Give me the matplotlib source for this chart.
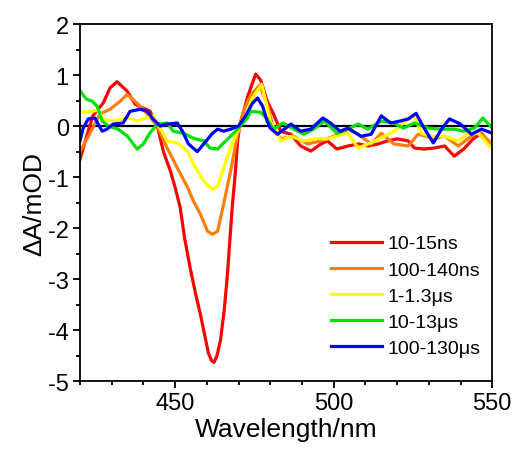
import matplotlib
matplotlib.use("Agg")
import matplotlib.pyplot as plt
from matplotlib.ticker import MultipleLocator

plt.rcParams['font.family'] = ['Liberation Sans', 'DejaVu Sans']
plt.rcParams['axes.unicode_minus'] = False

# transient absorption spectra (wavelength nm, dA mOD)
red_x = [420, 424, 427.3, 429.5, 431.7, 434.8, 437.4, 440, 442, 444.4, 446.3, 448.5, 450,
         451.6, 453, 454.8, 456.5, 458, 459.5, 460.5, 461.5, 462.3, 463.2, 464.3, 465.5,
         466.5, 467.3, 468, 469, 469.7, 470.3, 473, 475.4, 477, 479, 481,
         483.3, 486.5, 489.6, 492.8, 496, 498, 501, 504.5, 507.7, 510.8, 514, 517, 520, 523.5,
         525.4, 528.5, 531.7, 535, 538, 541, 544, 546.6, 550]
red_y = [-0.65, 0.2, 0.45, 0.75, 0.87, 0.69, 0.43, 0.35, 0.3, 0.0, -0.5, -0.88, -1.2,
         -1.6, -2.2, -2.8, -3.3, -3.7, -4.15, -4.45, -4.6, -4.63, -4.5, -4.2, -3.6,
         -2.9, -2.2, -1.6, -0.9, -0.3, 0.0, 0.6, 1.02, 0.9, 0.49, 0.24,
         -0.1, -0.16, -0.39, -0.49, -0.35, -0.29, -0.45, -0.39, -0.35, -0.39, -0.35, -0.29,
         -0.25, -0.29, -0.43, -0.45, -0.43, -0.39, -0.59, -0.45, -0.25, -0.14, -0.4]

orange_x = [420, 423, 426.3, 429.5, 432.7, 434.9, 438, 441.2, 444.4, 447.5, 450.7, 453.9,
            455.8, 458, 460.2, 461.8, 463.4, 465.3, 467.5, 469.7, 471.6, 473.8, 476.6, 479,
            481, 483.3, 487.4, 491.8, 496, 500, 504.5, 507.7, 511.8, 515, 519, 523.5, 526.6,
            531.7, 535, 539.3, 542.5, 545.6, 550]
orange_y = [-0.5, -0.16, 0.24, 0.33, 0.49, 0.62, 0.45, 0.24, 0.0, -0.43, -0.82, -1.2,
            -1.47, -1.73, -2.06, -2.12, -2.06, -1.53, -0.88, -0.16, 0.3, 0.6, 0.8, 0.43,
            -0.04, -0.25, -0.2, -0.35, -0.29, -0.2, -0.06, -0.16, -0.35, -0.14, -0.35, -0.39,
            -0.16, -0.24, -0.2, -0.39, -0.24, -0.1, -0.35]

yellow_x = [420, 423.5, 425.7, 427.3, 430.5, 435, 438, 441, 443, 445.3, 447.5, 450.7, 453.9,
            455.8, 459, 461.8, 463.4, 465.3, 467.5, 469.7, 472.8, 474.4, 477.3, 480, 483.3,
            486.5, 490.6, 495, 498, 501, 504.5, 507.7, 511.8, 516, 519, 522, 525.4, 527.6,
            530.7, 535, 539.3, 542.5, 545.6, 550]
yellow_y = [0.27, 0.29, 0.31, 0.14, 0.1, 0.16, 0.1, 0.16, 0.2, -0.04, -0.29, -0.33, -0.49,
            -0.75, -1.08, -1.24, -1.18, -0.82, -0.43, -0.1, 0.29, 0.55, 0.82, 0.1, -0.29,
            -0.2, -0.29, -0.24, -0.25, -0.2, -0.14, -0.43, -0.33, -0.2, -0.1, 0.06, 0.2,
            -0.14, -0.2, -0.2, -0.29, -0.14, -0.14, -0.45]

green_x = [420, 422, 423.8, 425.4, 427, 429, 432, 435, 438, 440, 442, 444.4, 447.5, 449.4,
           452.6, 455.8, 459, 461, 463.4, 465.3, 467.5, 470, 472.8, 473.8, 477, 479, 481,
           484, 487.4, 490.6, 493.7, 497, 501, 504.5, 507.7, 510.8, 515, 519, 522, 525.4,
           530, 534, 538, 541, 544.4, 547, 550]
green_y = [0.69, 0.53, 0.49, 0.39, 0.1, 0.0, -0.06, -0.2, -0.45, -0.35, -0.14, 0.04, 0.06,
           -0.1, -0.14, -0.24, -0.29, -0.43, -0.45, -0.33, -0.2, -0.04, 0.16, 0.29, 0.27,
           0.14, -0.06, 0.06, -0.06, -0.16, -0.06, 0.1, -0.14, -0.06, 0.04, -0.06, 0.1, 0.06,
           -0.04, 0.06, -0.04, -0.06, -0.06, -0.1, -0.04, 0.16, -0.04]

blue_x = [420, 421, 422.6, 424.7, 427, 428.5, 430.5, 433.6, 435.8, 439, 441.2, 443, 445.3,
          447.5, 450.7, 452.3, 454.2, 457, 459, 461.8, 463.4, 465.3, 467.5, 470, 472.2,
          474.4, 476, 477.6, 479, 480, 482.3, 486.5, 489.6, 492.8, 496.6, 499, 502, 504.5,
          508.6, 511.8, 515, 518, 521, 523.5, 526, 528.5, 531.4, 534, 536.5, 540, 543.4,
          546.6, 550]
blue_y = [-0.29, -0.04, 0.14, 0.16, -0.1, -0.06, 0.04, 0.06, 0.29, 0.33, 0.29, 0.14, 0.0,
          0.04, 0.06, -0.1, -0.35, -0.5, -0.35, -0.14, -0.06, -0.1, -0.06, 0.0, 0.2, 0.45,
          0.55, 0.39, 0.1, -0.04, -0.16, 0.04, -0.1, -0.06, 0.16, 0.06, -0.1, -0.04, -0.2,
          -0.16, 0.2, 0.06, 0.1, 0.14, 0.25, -0.04, -0.33, -0.06, 0.14, 0.04, -0.16, -0.06,
          -0.14]

labels = ['10-15ns', '100-140ns', '1-1.3\u03bcs', '10-13\u03bcs', '100-130\u03bcs']
colors = ['#ff0000', '#ff7f0a', '#ffff00', '#00e000', '#0000ff']

fig = plt.figure(figsize=(5.16, 4.56), dpi=100)
ax = fig.add_axes([0.155, 0.162, 0.799, 0.783])

ax.axhline(0, color='black', lw=1.6, zorder=1)

series = [(red_x, red_y), (orange_x, orange_y), (yellow_x, yellow_y),
          (green_x, green_y), (blue_x, blue_y)]
for (xs, ys), lab, c in zip(series, labels, colors):
    ax.plot(xs, ys, color=c, lw=2.3, label=lab, solid_joinstyle='round')

ax.set_xlim(420, 550)
ax.set_ylim(-5, 2)
ax.xaxis.set_major_locator(MultipleLocator(50))
ax.xaxis.set_minor_locator(MultipleLocator(10))
ax.yaxis.set_major_locator(MultipleLocator(1))
ax.yaxis.set_minor_locator(MultipleLocator(0.5))
ax.tick_params(which='major', direction='out', length=5, width=1.3, labelsize=17, pad=3)
ax.tick_params(which='minor', direction='out', length=3, width=1.3)
for s in ax.spines.values():
    s.set_linewidth(1.3)

ax.set_xlabel('Wavelength/nm', fontsize=19, labelpad=2)
ax.set_ylabel('\u0394A/mOD', fontsize=19, labelpad=1)

ax.legend(loc='upper left', bbox_to_anchor=(0.61, 0.41), frameon=False, fontsize=14,
          handlelength=2.6, handletextpad=0.3, labelspacing=0.44,
          borderpad=0, borderaxespad=0)

fig.savefig('out.png', dpi=100)
